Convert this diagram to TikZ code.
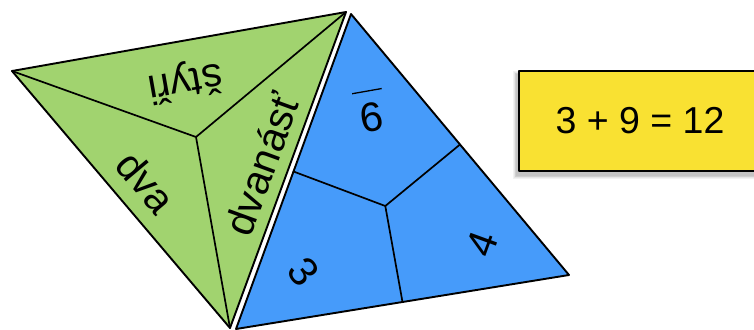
\documentclass[tikz,border=0pt]{standalone}
\usepackage{fontspec}
\setmainfont{Liberation Sans}
\usetikzlibrary{calc}
\definecolor{facegreen}{RGB}{161,211,111}
\definecolor{faceblue}{RGB}{70,155,250}
\definecolor{boxyellow}{RGB}{249,225,50}
\begin{document}
\begin{tikzpicture}[x=1pt,y=-1pt,line join=round,line cap=round,
  edgeline/.style={draw=black,line width=1.9pt},
  innerline/.style={draw=black,line width=1.7pt},
  lab/.style={font=\fontsize{41}{41}\selectfont,inner sep=0pt},
  eqbox/.style={draw=black,line width=1.2pt,fill=boxyellow,minimum width=242pt,minimum height=100pt,inner sep=0pt,font=\fontsize{37.5}{37.5}\selectfont}]
\useasboundingbox (0,0) rectangle (754,329);
% green face
\coordinate (gL) at (12,71);
\coordinate (gT) at (346,12);
\coordinate (gB) at (230,328);
\coordinate (gC) at (196,137);
\fill[facegreen] (gL)--(gT)--(gB)--cycle;
\draw[innerline] (gC)--(gL) (gC)--(gT) (gC)--(gB);
\draw[edgeline] (gL)--(gT)--(gB)--cycle;
% blue face
\coordinate (bT) at (351,14);
\coordinate (bL) at (236,329);
\coordinate (bR) at (569,275);
\coordinate (bC) at (385.3,206);
\coordinate (mL) at ($(bT)!0.5!(bL)$);
\coordinate (mR) at ($(bT)!0.5!(bR)$);
\coordinate (mB) at ($(bL)!0.5!(bR)$);
\fill[faceblue] (bT)--(bL)--(bR)--cycle;
\draw[innerline] (bC)--(mL) (bC)--(mR) (bC)--(mB);
\draw[edgeline] (bT)--(bL)--(bR)--cycle;
% labels
\node[lab,rotate=190] (styri) at (185,81) {štyři};
\node[lab,rotate=-50] (dva) at (146,182) {dva};
\node[lab,rotate=70] (dvanast) at (262,164) {dvanásť};
\node[lab,rotate=190,anchor=base] (nine) at (369,103) {\vtop{\hbox to 30pt{\hss 9\hss}\kern11pt\hrule height 1.3pt}};
\node[lab,rotate=-52] (three) at (304,272) {3};
\node[lab,rotate=70] (four) at (482,244) {4};
% equation box with soft shadow
\foreach \i in {1,...,5}{
  \fill[black,opacity=0.05] ($(519-2-\i*0.8,71+4-\i*0.8)$) rectangle ($(761-2+\i*0.8,171+4+\i*0.8)$);
}
\node[eqbox] (eq) at (640,121) {3 + 9 = 12};
\end{tikzpicture}
\end{document}
